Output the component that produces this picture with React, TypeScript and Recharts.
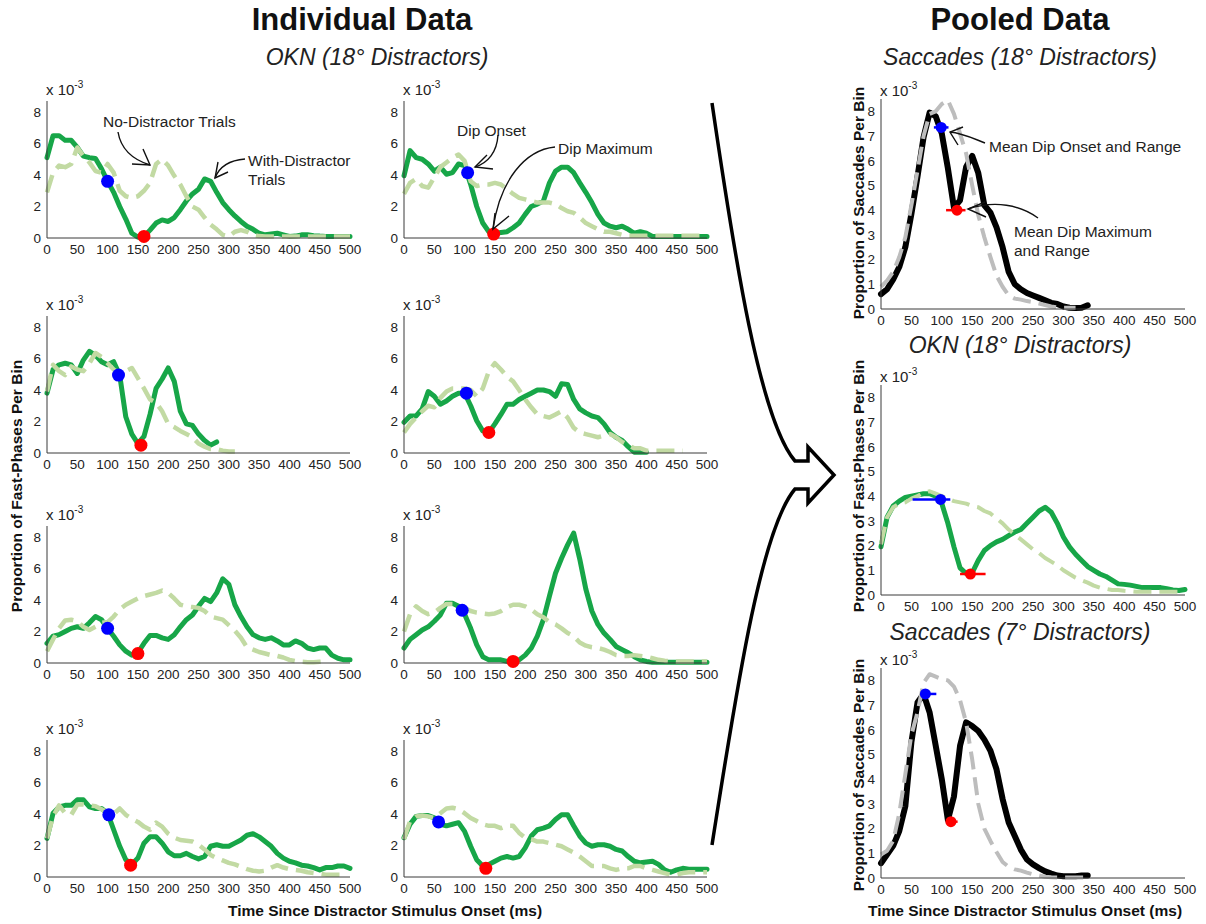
import { LineChart, Line, XAxis, YAxis, ReferenceDot, ReferenceLine } from "recharts";

const FONT = "'Liberation Sans', Arial, Helvetica, sans-serif";
const _ = null;

// time bins (ms)
const TIMES = [
  0, 10, 20, 30, 40, 50, 60, 70, 80, 90, 100, 110, 120, 130, 140, 150, 160, 170, 180, 190, 200, 210, 220,
  230, 240, 250, 260, 270, 280, 290, 300, 310, 320, 330, 340, 350, 360, 370, 380, 390, 400, 410, 420, 430,
  440, 450, 460, 470, 480, 490, 500,
];
const X_TICKS = [0, 50, 100, 150, 200, 250, 300, 350, 400, 450, 500];
const SMALL_Y_TICKS = [0, 2, 4, 6, 8];
const BIG_Y_TICKS = [0, 1, 2, 3, 4, 5, 6, 7, 8];

// individual data (x 10^-3), with-distractor and no-distractor trials
const P1_WITH = [5.1, 6.5, 6.5, 6.2, 6.2, 5.75, 5.2, 5.1, 5.05, 4.4, 3.6, 2.9, 2.0, 1.2, 0.3, 0.05, 0.1, 0.5, 0.95, 1.15, 1.05, 1.3, 1.8, 2.35, 2.8, 3.1, 3.75, 3.6, 2.9, 2.25, 1.8, 1.4, 1.05, 0.75, 0.55, 0.3, 0.2, 0.25, 0.3, 0.2, 0.1, 0.12, 0.2, 0.2, 0.15, 0.12, 0.1, 0.1, 0.1, 0.1, 0.1];
const P1_WITHOUT = [2.9, 4.15, 4.6, 4.5, 4.7, 5.75, 5.2, 4.8, 4.25, 4.15, 4.7, 4.15, 3.0, 2.65, 2.55, 2.65, 3.0, 3.5, 4.7, 5.0, 4.6, 3.95, 3.4, 2.65, 2.0, 1.8, 1.3, 0.85, 0.55, 0.2, 0.1, 0.4, 0.5, 0.4, 0.2, 0.12, 0.1, 0.1, 0.1, 0.1, 0.1, 0.1, 0.1, 0.1, 0.1, 0.1, 0.1, 0.1, 0.1, 0.1, 0.1];
const P2_WITH = [3.95, 5.55, 5.1, 5.0, 4.7, 4.25, 4.5, 4.05, 4.15, 4.7, 4.6, 3.4, 2.0, 0.95, 0.4, 0.3, 0.35, 0.4, 0.65, 0.95, 1.5, 2.0, 2.15, 2.35, 3.5, 4.25, 4.5, 4.5, 4.15, 3.5, 2.9, 2.25, 1.5, 0.95, 0.75, 0.65, 0.75, 0.55, 0.3, 0.4, 0.3, 0.1, 0.1, 0.1, 0.1, 0.1, 0.1, 0.1, 0.1, 0.1, 0.1];
const P2_WITHOUT = [2.8, 3.5, 3.75, 3.3, 3.2, 3.85, 4.5, 4.8, 5.1, 5.3, 4.9, 3.6, 3.3, 3.4, 3.4, 3.5, 3.4, 3.1, 2.8, 2.55, 2.45, 2.35, 2.25, 2.25, 2.25, 2.15, 1.9, 1.7, 1.6, 1.3, 0.95, 0.75, 0.55, 0.4, 0.4, 0.3, 0.2, 0.15, 0.15, 0.15, 0.15, 0.15, 0.15, 0.15, 0.15, 0.15, 0.15, 0.15, 0.15, 0.15, 0.15];
const P3_WITH = [3.8, 5.3, 5.6, 5.7, 5.6, 5.05, 5.9, 6.45, 6.2, 5.8, 5.6, 5.8, 4.95, 2.3, 1.2, 0.6, 1.05, 2.45, 4.1, 4.7, 5.4, 4.55, 2.65, 1.85, 1.75, 1.2, 0.8, 0.5, 0.7, _, _, _, _, _, _, _, _, _, _, _, _, _, _, _, _, _, _, _, _, _, _];
const P3_WITHOUT = [3.9, 5.6, 5.2, 4.95, 5.5, 5.3, 5.2, 5.7, 6.35, 6.1, 5.7, 5.3, 5.05, 5.2, 5.4, 4.75, 4.1, 3.4, 3.2, 2.65, 1.85, 1.65, 1.4, 1.2, 1.0, 0.6, 0.4, 0.25, 0.25, 0.15, 0.1, 0.1, _, _, _, _, _, _, _, _, _, _, _, _, _, _, _, _, _, _, _];
const P4_WITH = [1.95, 2.35, 2.35, 2.8, 3.9, 3.6, 3.1, 3.3, 3.6, 3.8, 3.8, 3.0, 2.05, 1.4, 1.3, 1.85, 2.45, 3.1, 3.1, 3.4, 3.6, 3.8, 4.0, 4.0, 3.9, 3.6, 4.4, 4.35, 3.4, 2.8, 2.55, 2.35, 2.25, 1.85, 1.3, 1.0, 0.8, 0.4, 0.05, 0.05, 0.05, _, _, _, _, _, _, _, _, _, _];
const P4_WITHOUT = [1.3, 1.85, 2.25, 2.65, 3.0, 2.9, 3.5, 3.9, 4.1, 4.1, 4.1, 4.0, 3.6, 4.1, 5.2, 5.7, 5.3, 4.85, 4.55, 4.0, 3.4, 2.9, 2.45, 2.35, 2.25, 2.45, 2.65, 2.25, 1.6, 1.3, 1.2, 1.1, 1.0, 1.1, 1.2, 1.0, 0.7, 0.5, 0.3, 0.3, 0.15, 0.15, 0.15, 0.15, 0.15, 0.15, 0.15, _, _, _, _];
const P5_WITH = [1.25, 1.7, 1.8, 2.0, 2.2, 2.3, 2.2, 2.55, 2.95, 2.75, 2.2, 1.7, 1.15, 0.75, 0.5, 0.65, 1.25, 1.75, 1.75, 1.6, 1.5, 1.8, 2.3, 2.75, 3.05, 3.6, 4.1, 3.9, 4.45, 5.35, 5.0, 3.7, 2.95, 2.3, 1.8, 1.6, 1.5, 1.6, 1.4, 1.15, 1.15, 1.4, 1.25, 0.95, 0.85, 0.95, 0.95, 0.5, 0.3, 0.2, 0.2];
const P5_WITHOUT = [0.75, 1.5, 2.2, 2.7, 2.75, 2.65, 2.3, 2.1, 2.3, 2.55, 2.6, 2.95, 3.4, 3.7, 3.9, 4.1, 4.25, 4.35, 4.45, 4.6, 4.45, 4.1, 3.7, 3.6, 3.55, 3.5, 3.3, 2.95, 2.85, 2.75, 2.4, 2.05, 1.6, 1.0, 0.85, 0.7, 0.6, 0.5, 0.45, 0.35, 0.2, 0.12, 0.08, 0.05, 0.05, 0.08, 0.1, _, _, _, _];
const P6_WITH = [0.95, 1.5, 1.8, 2.1, 2.3, 2.65, 3.05, 3.8, 3.8, 3.6, 3.1, 2.2, 1.15, 0.4, 0.2, 0.2, 0.2, 0.1, 0.1, 0.2, 0.5, 0.95, 1.7, 2.75, 4.25, 5.7, 6.65, 7.5, 8.25, 6.6, 4.7, 3.3, 2.45, 1.9, 1.5, 1.05, 0.85, 0.65, 0.4, 0.2, 0.1, 0.05, 0.05, 0.05, 0.05, 0.05, 0.05, 0.05, 0.05, 0.05, 0.05];
const P6_WITHOUT = [2.0, 3.1, 3.6, 3.3, 3.1, 3.2, 3.5, 3.75, 3.75, 3.65, 3.5, 3.3, 3.2, 3.15, 3.1, 3.15, 3.3, 3.55, 3.7, 3.7, 3.6, 3.4, 3.1, 2.9, 2.6, 2.45, 2.2, 1.9, 1.7, 1.3, 1.1, 1.0, 0.95, 0.85, 0.7, 0.5, 0.45, 0.45, 0.5, 0.45, 0.4, 0.3, 0.2, 0.15, 0.12, 0.1, 0.1, 0.1, 0.1, 0.1, 0.1];
const P7_WITH = [2.45, 4.05, 4.45, 4.55, 4.55, 4.9, 4.9, 4.45, 4.35, 4.35, 4.05, 3.0, 1.95, 1.1, 0.8, 1.2, 2.15, 2.55, 2.55, 2.15, 1.6, 1.35, 1.35, 1.5, 1.3, 1.15, 1.3, 1.95, 2.05, 1.95, 1.95, 2.15, 2.35, 2.65, 2.75, 2.55, 2.25, 1.95, 1.5, 1.2, 1.0, 0.9, 0.75, 0.7, 0.6, 0.45, 0.6, 0.6, 0.7, 0.7, 0.55];
const P7_WITHOUT = [2.45, 3.85, 4.55, 4.05, 3.95, 4.6, 4.6, 4.55, 4.5, 4.3, 4.1, 4.0, 4.35, 3.95, 3.7, 3.5, 3.2, 3.0, 3.45, 3.2, 2.75, 2.5, 2.35, 2.3, 2.25, 2.05, 1.75, 1.4, 1.2, 1.05, 0.9, 0.8, 0.65, 0.5, 0.4, 0.35, 0.4, 0.6, 0.75, 0.6, 0.5, 0.45, 0.4, 0.3, 0.25, 0.2, 0.15, 0.15, 0.15, 0.15, _];
const P8_WITH = [2.5, 3.35, 3.85, 3.9, 3.9, 3.75, 3.35, 3.25, 3.35, 3.45, 2.9, 1.95, 1.1, 0.7, 0.8, 1.0, 1.2, 1.3, 1.2, 1.3, 1.85, 2.6, 3.0, 3.1, 3.25, 3.65, 3.95, 3.95, 3.25, 2.6, 2.15, 1.95, 2.05, 2.05, 1.95, 1.75, 1.65, 1.3, 1.0, 0.9, 0.95, 1.0, 0.8, 0.45, 0.3, 0.45, 0.55, 0.5, 0.5, 0.5, 0.5];
const P8_WITHOUT = [2.4, 3.55, 3.85, 3.9, 3.85, 3.75, 4.05, 4.35, 4.4, 4.3, 4.05, 3.75, 3.55, 3.35, 3.25, 3.25, 3.1, 3.25, 3.25, 2.8, 2.5, 2.4, 2.25, 2.25, 2.15, 2.05, 1.95, 1.75, 1.55, 1.3, 1.0, 0.7, 0.7, 0.7, 0.55, 0.45, 0.55, 0.55, 0.7, 0.7, 0.55, 0.45, 0.35, 0.25, 0.15, 0.15, 0.25, 0.3, 0.3, 0.3, 0.3];

// pooled data
const SAC18_WITH = [0.6, 0.8, 1.2, 1.7, 2.5, 3.85, 5.35, 6.95, 7.95, 7.8, 7.1, 5.7, 4.1, 4.4, 5.75, 6.2, 5.5, 4.2, 3.9, 3.3, 2.5, 1.5, 1.0, 0.8, 0.65, 0.55, 0.45, 0.35, 0.25, 0.2, 0.1, 0.05, 0.04, 0.05, 0.15, _, _, _, _, _, _, _, _, _, _, _, _, _, _, _, _];
const SAC18_WITHOUT = [0.9, 1.15, 1.5, 2.1, 2.9, 4.2, 5.6, 7.0, 7.9, 8.0, 8.3, 8.45, 7.9, 7.1, 6.3, 5.0, 3.8, 2.9, 2.1, 1.35, 0.9, 0.55, 0.42, 0.38, 0.32, 0.28, 0.22, 0.16, 0.1, 0.07, 0.05, 0.05, 0.05, _, _, _, _, _, _, _, _, _, _, _, _, _, _, _, _, _, _];
const OKN_WITH = [1.95, 3.15, 3.6, 3.8, 3.95, 4.0, 4.05, 4.1, 4.1, 4.0, 3.7, 2.9, 1.95, 1.1, 0.87, 0.9, 1.4, 1.8, 2.0, 2.15, 2.25, 2.4, 2.55, 2.65, 2.9, 3.15, 3.4, 3.55, 3.35, 2.9, 2.35, 1.95, 1.65, 1.4, 1.15, 1.0, 0.85, 0.75, 0.6, 0.45, 0.43, 0.4, 0.35, 0.3, 0.3, 0.3, 0.3, 0.25, 0.2, 0.18, 0.22];
const OKN_WITHOUT = [2.05, 3.15, 3.55, 3.7, 3.75, 3.9, 4.0, 4.15, 4.2, 4.1, 4.0, 3.9, 3.8, 3.75, 3.7, 3.6, 3.55, 3.4, 3.3, 3.1, 2.9, 2.65, 2.45, 2.25, 2.05, 1.85, 1.7, 1.5, 1.35, 1.2, 1.0, 0.85, 0.7, 0.6, 0.5, 0.38, 0.3, 0.25, 0.2, 0.2, 0.17, 0.15, 0.13, 0.13, 0.13, 0.13, 0.13, 0.13, 0.13, 0.13, _];
const SAC7_WITH = [0.6, 0.95, 1.3, 1.9, 2.9, 5.5, 7.1, 7.45, 6.7, 5.35, 4.0, 2.35, 3.3, 5.35, 6.3, 6.15, 5.95, 5.6, 5.15, 4.4, 3.2, 2.25, 1.7, 1.15, 0.75, 0.55, 0.4, 0.27, 0.18, 0.1, 0.07, 0.07, 0.07, 0.1, 0.1, _, _, _, _, _, _, _, _, _, _, _, _, _, _, _, _];
const SAC7_WITHOUT = [0.95, 1.1, 1.5, 2.6, 4.2, 5.8, 6.7, 7.9, 8.25, 8.15, 8.05, 8.0, 7.75, 7.2, 6.3, 4.8, 3.0, 2.0, 1.5, 1.05, 0.65, 0.45, 0.35, 0.3, 0.22, 0.15, 0.1, 0.05, 0.03, 0.02, 0.02, 0.02, 0.02, 0.02, 0.02, _, _, _, _, _, _, _, _, _, _, _, _, _, _, _, _];

// dip onset / dip maximum [ms, value]
const ONSETS = [[100, 3.6], [105, 4.15], [118, 4.95], [103, 3.8], [100, 2.2], [96, 3.35], [102, 3.95], [57, 3.5]];
const DIPS = [[160, 0.1], [148, 0.25], [155, 0.5], [140, 1.3], [150, 0.6], [180, 0.1], [138, 0.75], [135, 0.55]];
const POOLED_ONSETS = [[99, 7.35], [98, 3.87], [73, 7.45]];
const POOLED_ONSET_RANGES = [[87, 111], [52, 114], [66, 91]];
const POOLED_DIPS = [[125, 4.0], [147, 0.85], [115, 2.28]];
const POOLED_DIP_RANGES = [[107, 139], [130, 172], [108, 126]];

const GREEN = "#17a648";
const LIGHT_GREEN = "#c2daa3";
const GRAY = "#bdbdbd";
const AXIS = "#3a3a3a";
const TXT = "#222";

const Y_AXIS_W = 34;
const TOP_PAD = 6;
const RIGHT_PAD = 20;
const X_AXIS_H = 24;

type Spec = {
  left: number;
  top: number;
  w: number;
  h: number;
  yMax: number;
  yTicks: number[];
  solid: (number | null)[];
  dashed: (number | null)[];
  solidColor: string;
  dashedColor: string;
  solidWidth: number;
  dashedWidth: number;
  onset: number[];
  dip: number[];
  onsetRange?: number[];
  dipRange?: number[];
  dotR: number;
  fontSize: number;
  expOffset: number;
};

const LEFT_COLS = [47, 404];
const LEFT_TOPS = [101, 316, 526, 740];
const LEFT_PAIRS = [
  [P1_WITH, P1_WITHOUT],
  [P2_WITH, P2_WITHOUT],
  [P3_WITH, P3_WITHOUT],
  [P4_WITH, P4_WITHOUT],
  [P5_WITH, P5_WITHOUT],
  [P6_WITH, P6_WITHOUT],
  [P7_WITH, P7_WITHOUT],
  [P8_WITH, P8_WITHOUT],
];

const individual: Spec[] = LEFT_PAIRS.map(([solid, dashed], i) => ({
  left: LEFT_COLS[i % 2],
  top: LEFT_TOPS[Math.floor(i / 2)],
  w: 303,
  h: 137,
  yMax: 8.7,
  yTicks: SMALL_Y_TICKS,
  solid,
  dashed,
  solidColor: GREEN,
  dashedColor: LIGHT_GREEN,
  solidWidth: 5,
  dashedWidth: 4.5,
  onset: ONSETS[i],
  dip: DIPS[i],
  dotR: 6.5,
  fontSize: 13.5,
  expOffset: 6,
}));

const POOLED_TOPS = [99, 385, 668];
const POOLED_SERIES = [
  [SAC18_WITH, SAC18_WITHOUT, "#000", GRAY, 6],
  [OKN_WITH, OKN_WITHOUT, GREEN, LIGHT_GREEN, 5],
  [SAC7_WITH, SAC7_WITHOUT, "#000", GRAY, 6],
] as const;

const pooled: Spec[] = POOLED_SERIES.map(([solid, dashed, sc, dc, sw], i) => ({
  left: 881,
  top: POOLED_TOPS[i],
  w: 304,
  h: 210,
  yMax: 8.5,
  yTicks: BIG_Y_TICKS,
  solid: solid as (number | null)[],
  dashed: dashed as (number | null)[],
  solidColor: sc,
  dashedColor: dc,
  solidWidth: sw,
  dashedWidth: 4,
  onset: POOLED_ONSETS[i],
  dip: POOLED_DIPS[i],
  onsetRange: POOLED_ONSET_RANGES[i],
  dipRange: POOLED_DIP_RANGES[i],
  dotR: 5.5,
  fontSize: 13.5,
  expOffset: 3,
}));

function Panel({ spec }: { spec: Spec }) {
  const rows = TIMES.map((t, i) => ({ t, solid: spec.solid[i], dashed: spec.dashed[i] }));
  const tick = { fontSize: spec.fontSize, fill: TXT, fontFamily: FONT };
  return (
    <div style={{ position: "absolute", left: spec.left - Y_AXIS_W, top: spec.top - TOP_PAD }}>
      <LineChart
        width={Y_AXIS_W + spec.w + RIGHT_PAD}
        height={TOP_PAD + spec.h + X_AXIS_H}
        data={rows}
        margin={{ top: TOP_PAD, right: RIGHT_PAD, bottom: 0, left: 0 }}
        style={{ fontSize: spec.fontSize }}
      >
        <XAxis
          dataKey="t"
          type="number"
          domain={[0, 500]}
          ticks={X_TICKS}
          interval={0}
          height={X_AXIS_H}
          axisLine={{ stroke: AXIS, strokeWidth: 1 }}
          tickLine={false}
          tickSize={3}
          tickMargin={3}
          fontSize={spec.fontSize}
          tick={tick}
        />
        <YAxis
          type="number"
          domain={[0, spec.yMax]}
          ticks={spec.yTicks}
          interval={0}
          width={Y_AXIS_W}
          axisLine={{ stroke: AXIS, strokeWidth: 1 }}
          tickLine={false}
          tickSize={3}
          tickMargin={3}
          fontSize={spec.fontSize}
          tick={tick}
        />
        <Line
          dataKey="solid"
          type="linear"
          stroke={spec.solidColor}
          strokeWidth={spec.solidWidth}
          strokeLinejoin="round"
          strokeLinecap="round"
          dot={false}
          activeDot={false}
          isAnimationActive={false}
        />
        <Line
          dataKey="dashed"
          type="linear"
          stroke={spec.dashedColor}
          strokeWidth={spec.dashedWidth}
          strokeDasharray="18 8"
          strokeLinejoin="round"
          dot={false}
          activeDot={false}
          isAnimationActive={false}
        />
        {spec.onsetRange && (
          <ReferenceLine
            segment={[
              { x: spec.onsetRange[0], y: spec.onset[1] },
              { x: spec.onsetRange[1], y: spec.onset[1] },
            ]}
            stroke="#0000ff"
            strokeWidth={2.5}
            ifOverflow="visible"
          />
        )}
        {spec.dipRange && (
          <ReferenceLine
            segment={[
              { x: spec.dipRange[0], y: spec.dip[1] },
              { x: spec.dipRange[1], y: spec.dip[1] },
            ]}
            stroke="#ff0000"
            strokeWidth={2.5}
            ifOverflow="visible"
          />
        )}
        <ReferenceDot x={spec.onset[0]} y={spec.onset[1]} r={spec.dotR} fill="#0000ff" stroke="none" ifOverflow="visible" />
        <ReferenceDot x={spec.dip[0]} y={spec.dip[1]} r={spec.dotR} fill="#ff0000" stroke="none" ifOverflow="visible" />
      </LineChart>
    </div>
  );
}

function Exponent({ spec }: { spec: Spec }) {
  return (
    <text x={spec.left - 1} y={spec.top - spec.expOffset} fontSize={15} fill={TXT}>
      x 10
      <tspan fontSize={10} dy={-7}>
        -3
      </tspan>
    </text>
  );
}

function VLabel({ x, y, text }: { x: number; y: number; text: string }) {
  return (
    <text
      x={x}
      y={y}
      transform={`rotate(-90 ${x} ${y})`}
      textAnchor="middle"
      dy="0.35em"
      fontSize={15.5}
      fontWeight="bold"
      fill="#111"
    >
      {text}
    </text>
  );
}

function Overlay() {
  const all = [...individual, ...pooled];
  const arrow = { fill: "none", stroke: "#111", strokeWidth: 1.4 };
  return (
    <svg
      width={1206}
      height={924}
      style={{ position: "absolute", left: 0, top: 0, pointerEvents: "none" }}
      fontFamily={FONT}
    >
      <text x={362} y={30} textAnchor="middle" fontSize={31} fontWeight="bold" fill="#111">
        Individual Data
      </text>
      <text x={1020} y={30} textAnchor="middle" fontSize={31} fontWeight="bold" fill="#111">
        Pooled Data
      </text>
      <text x={377} y={65} textAnchor="middle" fontSize={23} fontStyle="italic" fill={TXT}>
        OKN (18° Distractors)
      </text>
      <text x={1020} y={65} textAnchor="middle" fontSize={23} fontStyle="italic" fill={TXT}>
        Saccades (18° Distractors)
      </text>
      <text x={1020} y={353} textAnchor="middle" fontSize={23} fontStyle="italic" fill={TXT}>
        OKN (18° Distractors)
      </text>
      <text x={1020} y={640} textAnchor="middle" fontSize={23} fontStyle="italic" fill={TXT}>
        Saccades (7° Distractors)
      </text>

      <VLabel x={17} y={486} text="Proportion of Fast-Phases Per Bin" />
      <VLabel x={859} y={203} text="Proportion of Saccades Per Bin" />
      <VLabel x={859} y={486} text="Proportion of Fast-Phases Per Bin" />
      <VLabel x={859} y={775} text="Proportion of Saccades Per Bin" />

      <text x={385} y={916} textAnchor="middle" fontSize={15.5} fontWeight="bold" fill="#111">
        Time Since Distractor Stimulus Onset (ms)
      </text>
      <text x={1025} y={916} textAnchor="middle" fontSize={15.5} fontWeight="bold" fill="#111">
        Time Since Distractor Stimulus Onset (ms)
      </text>

      {all.map((s, i) => (
        <Exponent key={i} spec={s} />
      ))}

      <g fontSize={15.5} fill={TXT}>
        <text x={103} y={127}>No-Distractor Trials</text>
        <text x={248} y={166}>With-Distractor</text>
        <text x={248} y={185}>Trials</text>
        <text x={457} y={136}>Dip Onset</text>
        <text x={558} y={154}>Dip Maximum</text>
        <text x={989} y={152}>Mean Dip Onset and Range</text>
        <text x={1014} y={237}>Mean Dip Maximum</text>
        <text x={1014} y={256}>and Range</text>
      </g>

      <g {...arrow}>
        <path d="M118,132 C121,150 134,160 150,165" />
        <path d="M143,149 L150,165 L132,164" />
        <path d="M245,159 C232,160 220,165 215,178" />
        <path d="M218,162 L215,178 L228,172" />
        <path d="M498,135 C497,152 488,163 475,167" />
        <path d="M487,155 L475,167 L493,169" />
        <path d="M555,147 C525,150 500,180 493,229" />
        <path d="M509,216 L493,229 L495,213" />
        <path d="M985,143 C972,138 962,133 950,132" />
        <path d="M963,127 L950,132 L958,145" />
        <path d="M1038,218 C1020,205 995,200 968,209" />
        <path d="M985,202 L968,209 L986,217" />
      </g>

      <path
        d="M712,103 C735,260 760,420 795,461 L808,461 L808,447 L834,475 L808,503 L808,489 L795,489 C760,530 735,700 712,845"
        fill="none"
        stroke="#000"
        strokeWidth={3.5}
        strokeLinejoin="miter"
      />
    </svg>
  );
}

export default function App() {
  return (
    <div style={{ position: "absolute", left: 0, top: 0, width: 1206, height: 924, background: "#fff", fontFamily: FONT }}>
      {[...individual, ...pooled].map((s, i) => (
        <Panel key={i} spec={s} />
      ))}
      <Overlay />
    </div>
  );
}
